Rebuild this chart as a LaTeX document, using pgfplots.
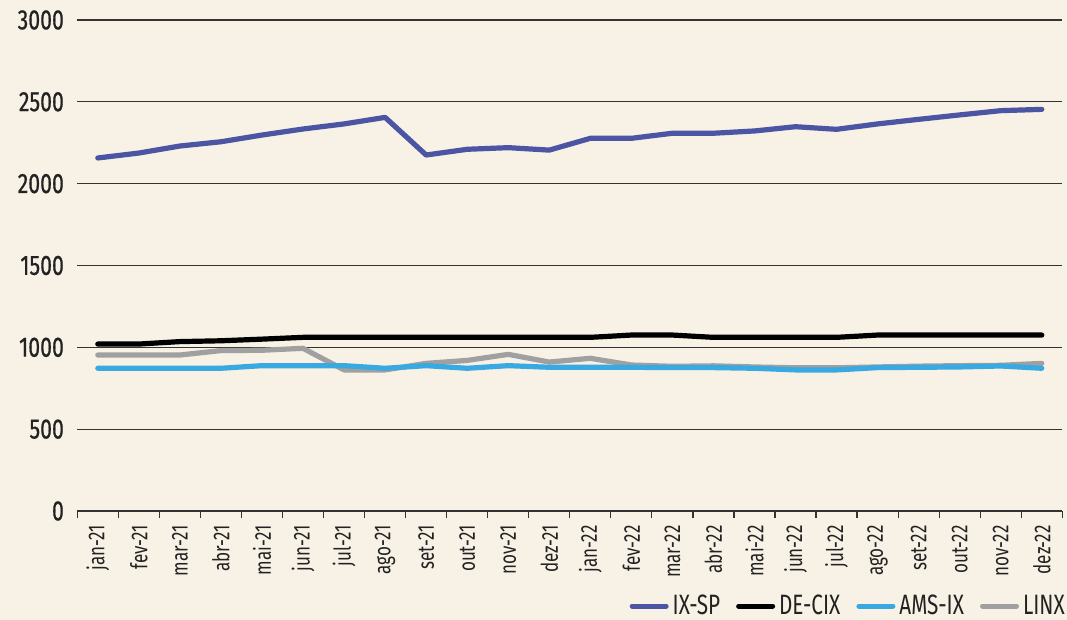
\documentclass[border=0pt]{standalone}
\usepackage{pgfplots}
\pgfplotsset{compat=1.18}
\usepackage{fontspec}
\setmainfont{Fira Sans}[FakeStretch=0.8]
\newfontface\narrowfont{Fira Sans}[FakeStretch=0.74]
\newfontface\tickfont{Fira Sans}[FakeStretch=0.76, FakeBold=0.6]
\definecolor{bgc}{HTML}{F8F1E5}
\definecolor{ixsp}{HTML}{4C54A4}
\definecolor{ams}{HTML}{39A9E1}
\definecolor{linx}{HTML}{A0A0A0}
\definecolor{gridc}{HTML}{333333}
\definecolor{txt}{HTML}{222222}
\pgfplotstableread{
x ixsp decix ams linx
0 2157 1020 872 953
1 2187 1020 872 953
2 2230 1035 872 953
3 2256 1040 872 980
4 2297 1050 888 982
5 2334 1061 888 994
6 2365 1061 888 862
7 2405 1061 872 862
8 2175 1061 888 902
9 2210 1061 872 920
10 2220 1061 888 957
11 2205 1061 878 910
12 2277 1061 878 933
13 2277 1075 878 892
14 2308 1075 876 884
15 2308 1061 876 887
16 2322 1061 872 880
17 2348 1061 862 875
18 2332 1061 862 875
19 2365 1075 876 880
20 2393 1075 878 885
21 2420 1075 880 888
22 2446 1075 886 890
23 2454 1075 872 902
}\data
\begin{document}
\begin{tikzpicture}
\fill[bgc, use as bounding box] (0,0) rectangle (533.5pt,310pt);
\begin{axis}[
  at={(38.65pt,54.5pt)}, anchor=south west,
  scale only axis, width=492.5pt, height=245.5pt,
  xmin=-0.5, xmax=23.5, ymin=0, ymax=3000,
  axis x line*=bottom, axis y line*=left,
  y axis line style={draw=none},
  x axis line style={gridc, line width=0.6pt},
  ytick={0,500,...,3000},
  ymajorgrids, major grid style={gridc, line width=0.6pt},
  ytick style={draw=none},
  xtick={0,...,23},
  xticklabels={jan-21,fev-21,mar-21,abr-21,mai-21,jun-21,jul-21,ago-21,set-21,out-21,nov-21,dez-21,jan-22,fev-22,mar-22,abr-22,mai-22,jun-22,jul-22,ago-22,set-22,out-22,nov-22,dez-22},
  minor xtick={-0.5,0.5,...,23.5},
  tick align=outside, major tick length=0pt, minor tick length=3.5pt,
  minor x tick style={gridc, line width=0.6pt},
  /pgf/number format/assume math mode=true,
  /pgf/number format/1000 sep={},
  yticklabel style={font=\tickfont\fontsize{14}{15}\selectfont, text=txt, anchor=east, inner xsep=6.5pt},
  xticklabel style={font=\narrowfont\fontsize{11.5}{12}\selectfont, text=txt, rotate=90, anchor=east, inner xsep=7pt},
  legend columns=4,
  legend style={at={(1.007,-0.1935)}, anchor=east, draw=none, fill=none,
    font=\narrowfont\fontsize{14}{15}\selectfont, text=txt, inner sep=0pt,
    /tikz/every even column/.append style={column sep=6pt}},
  legend image code/.code={\draw[#1, line width=2.5pt, line cap=round] (0pt,0pt) -- (17pt,0pt);},
  every axis plot/.append style={line width=2.6pt, line cap=round, line join=round, mark=none},
]
\addplot[ixsp] table[x=x, y=ixsp] {\data};
\addlegendentry{IX-SP}
\addplot[black] table[x=x, y=decix] {\data};
\addlegendentry{DE-CIX}
\addplot[linx, forget plot] table[x=x, y=linx] {\data};
\addplot[ams] table[x=x, y=ams] {\data};
\addlegendentry{AMS-IX}
\addlegendimage{linx}
\addlegendentry{LINX}
\end{axis}
\end{tikzpicture}
\end{document}
